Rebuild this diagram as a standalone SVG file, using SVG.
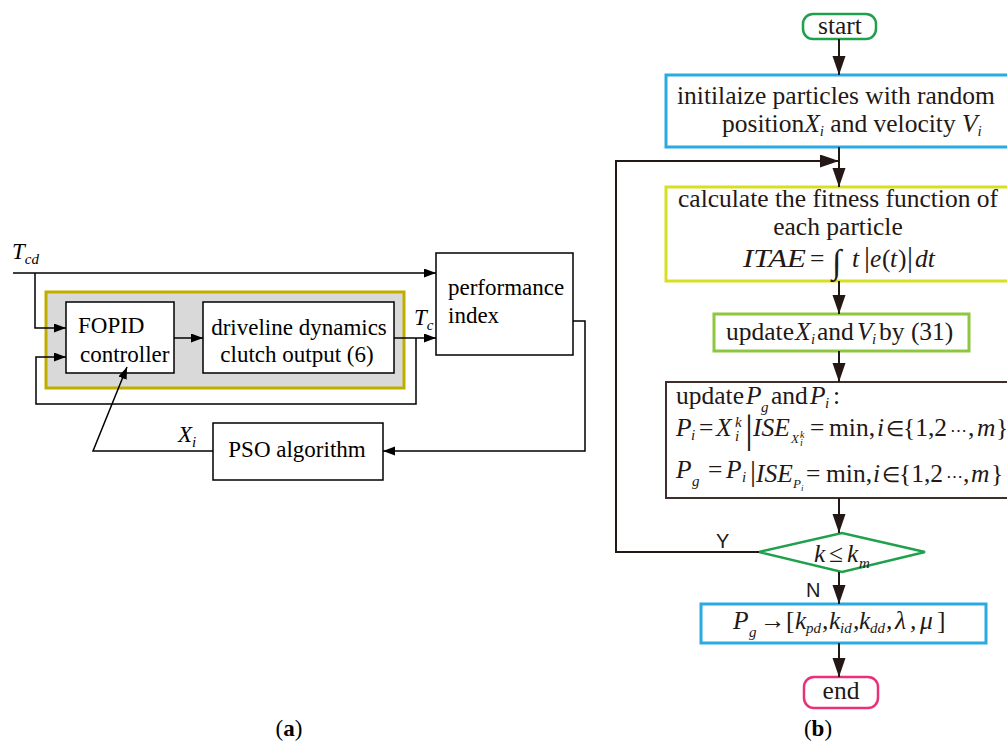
<svg xmlns="http://www.w3.org/2000/svg" width="1007" height="742" viewBox="0 0 1007 742">
<defs>
<marker id="arA" markerUnits="userSpaceOnUse" markerWidth="13" markerHeight="10" refX="12" refY="4.5" orient="auto"><path d="M0,0 L12,4.5 L0,9 z" fill="#000"/></marker>
<marker id="arB" markerUnits="userSpaceOnUse" markerWidth="20" markerHeight="14" refX="19" refY="6.5" orient="auto"><path d="M0,0 L19,6.5 L0,13 z" fill="#231815"/></marker>
<style>
.t{font-family:"Liberation Serif","Times New Roman",serif;font-size:23px;fill:#000}
.i{font-style:italic}
.s{font-size:15px}
.f{font-family:"Liberation Serif","Times New Roman",serif;font-size:25.5px;fill:#231815}
.bx{fill:#fff;stroke:#000;stroke-width:1.5}
.la{fill:none;stroke:#000;stroke-width:1.5}
.lb{fill:none;stroke:#231815;stroke-width:2}
.n{font-style:normal}
.el{font-size:21px}
.dots{font-size:17px}
</style>
</defs>
<rect width="1007" height="742" fill="#fff"/>

<!-- (a) block diagram -->
<g id="plant-group">
<rect x="46" y="292" width="358" height="96" fill="#d9d9d9" stroke="#bfae00" stroke-width="3"/>
</g>
<g id="fopid">
<rect class="bx" x="66" y="302" width="108" height="71"/>
<text class="t" x="78" y="333">FOPID</text>
<text class="t" x="80" y="362">controller</text>
</g>
<g id="driveline">
<rect class="bx" x="203" y="302" width="191" height="71"/>
<text class="t" x="299" y="335" text-anchor="middle">driveline dynamics</text>
<text class="t" x="297" y="362" text-anchor="middle">clutch output (6)</text>
</g>
<g id="performance">
<rect class="bx" x="436" y="253" width="137" height="102"/>
<text class="t" x="448" y="295">performance</text>
<text class="t" x="448" y="323">index</text>
</g>
<g id="pso">
<rect class="bx" x="213" y="423" width="170" height="57"/>
<text class="t" x="297" y="457" text-anchor="middle">PSO algorithm</text>
</g>
<g id="labels-a">
<text class="t i" x="12" y="259">T<tspan class="s" dy="5">cd</tspan></text>
<text class="t i" x="414" y="325">T<tspan class="s" dy="5">c</tspan></text>
<text class="t i" x="178" y="442">X<tspan class="s" dy="5">i</tspan></text>
</g>
<g id="connectors-a">
<path class="la" d="M13,273 H436" marker-end="url(#arA)"/>
<path class="la" d="M35,273 V328 H66" marker-end="url(#arA)"/>
<path class="la" d="M174,338 H203" marker-end="url(#arA)"/>
<path class="la" d="M394,338 H436" marker-end="url(#arA)"/>
<path class="la" d="M416,338 V404 H36 V357 H66" marker-end="url(#arA)"/>
<path class="la" d="M573,321 H585 V451 H383" marker-end="url(#arA)"/>
<path class="la" d="M213,451 H93 L127,367" marker-end="url(#arA)"/>
</g>

<!-- (b) flowchart -->
<g id="start">
<rect x="803" y="14" width="73" height="25" rx="10" fill="#fff" stroke="#1ea04c" stroke-width="2.5"/>
<text class="f" x="840" y="34" text-anchor="middle">start</text>
</g>
<g id="init">
<rect x="666" y="75" width="360" height="72" fill="#fff" stroke="#29abe2" stroke-width="3"/>
<text class="f" x="677" y="104">initilaize particles with random</text>
<text class="f" x="722" y="132">position<tspan class="i">X</tspan><tspan class="s i" dy="4">i</tspan><tspan dy="-4"> and velocity </tspan><tspan class="i">V</tspan><tspan class="s i" dy="4">i</tspan></text>
</g>
<g id="fitness">
<rect x="666" y="187" width="360" height="94" fill="#fff" stroke="#d7df23" stroke-width="3"/>
<text class="f" x="678" y="207">calculate the fitness function of</text>
<text class="f" x="838" y="235" text-anchor="middle">each particle</text>
<text class="f i" y="267" font-size="26"><tspan x="743" textLength="63" lengthAdjust="spacingAndGlyphs">ITAE</tspan><tspan class="n" x="810">=</tspan><tspan x="832" font-size="34" dy="6">∫</tspan><tspan x="852" dy="-6">t</tspan><tspan class="n" x="864" font-size="30">|</tspan><tspan x="870">e</tspan><tspan class="n" x="882">(</tspan><tspan x="890">t</tspan><tspan class="n" x="898">)</tspan><tspan class="n" x="907" font-size="30">|</tspan><tspan x="915">dt</tspan></text>
</g>
<g id="updateX">
<rect x="714" y="314" width="255" height="37" fill="#fff" stroke="#8dc63f" stroke-width="3"/>
<text class="f" y="340"><tspan x="726">update</tspan><tspan class="i" x="795">X</tspan><tspan class="s i" x="811" dy="4">i</tspan><tspan x="817" dy="-4">and</tspan><tspan class="i" x="857">V</tspan><tspan class="s i" x="872" dy="4">i</tspan><tspan x="879" dy="-4">by (31)</tspan></text>
</g>
<g id="updateP">
<rect x="666" y="382" width="360" height="116" fill="#fff" stroke="#3e2f2c" stroke-width="2"/>
<text class="f" y="404"><tspan x="676">update</tspan><tspan class="i" x="746">P</tspan><tspan class="s i" x="761" dy="8">g</tspan><tspan x="771" dy="-8">and</tspan><tspan class="i" x="810">P</tspan><tspan class="s i" x="825" dy="4">i</tspan><tspan x="833" dy="-4">:</tspan></text>
<text class="f" y="436"><tspan class="i" x="676">P</tspan><tspan class="s i" x="691" dy="4">i</tspan><tspan x="699" dy="-4">=</tspan><tspan class="i" x="716">X</tspan><tspan class="s i" x="735" dy="-9">k</tspan><tspan class="s i" x="735" dy="14">i</tspan><tspan x="745" dy="1" font-size="40">|</tspan><tspan class="i" x="753" dy="-6">ISE</tspan><tspan font-size="13" class="i" x="791" dy="7">X</tspan><tspan font-size="10" class="i" x="800" dy="-5">k</tspan><tspan font-size="10" class="i" x="800" dy="8">i</tspan><tspan x="810" dy="-10">=</tspan><tspan x="829">min,</tspan><tspan class="i" x="877">i</tspan><tspan class="el" x="886">∈</tspan><tspan x="903">{1,2</tspan><tspan class="dots" x="950">⋯</tspan><tspan x="968">,</tspan><tspan class="i" x="977">m</tspan><tspan x="996">}</tspan></text>
<text class="f" y="478"><tspan class="i" x="676">P</tspan><tspan class="s i" x="692" dy="8">g</tspan><tspan x="708" dy="-8">=</tspan><tspan class="i" x="726">P</tspan><tspan class="s i" x="742" dy="4">i</tspan><tspan x="750" dy="-1" font-size="30">|</tspan><tspan class="i" x="756" dy="1">ISE</tspan><tspan font-size="13" class="i" x="793" dy="6">P</tspan><tspan font-size="9" class="i" x="801" dy="3">i</tspan><tspan x="806" dy="-9">=</tspan><tspan x="826">min,</tspan><tspan class="i" x="873">i</tspan><tspan class="el" x="882">∈</tspan><tspan x="899">{1,2</tspan><tspan class="dots" x="946">⋯</tspan><tspan x="963">,</tspan><tspan class="i" x="971">m</tspan><tspan x="991">}</tspan></text>
</g>
<g id="decision">
<polygon points="759,552 842,533 925,552 842,572" fill="#fff" stroke="#1ea04c" stroke-width="2.5"/>
<text class="f i" y="562"><tspan x="814">k</tspan><tspan class="n" x="829">≤</tspan><tspan x="847">k</tspan><tspan class="s" x="859" dy="6">m</tspan></text>
<text x="716" y="548" font-family="Liberation Sans, Arial, sans-serif" font-size="20" fill="#231815">Y</text>
<text x="806" y="597" font-family="Liberation Sans, Arial, sans-serif" font-size="20" fill="#231815">N</text>
</g>
<g id="output">
<rect x="701" y="604" width="285" height="39" fill="#fff" stroke="#29abe2" stroke-width="3"/>
<text class="f" y="629"><tspan class="i" x="733">P</tspan><tspan class="s i" x="749" dy="8">g</tspan><tspan x="760" dy="-8">→</tspan><tspan x="786">[</tspan><tspan class="i" x="795">k</tspan><tspan class="s i" x="806" dy="4">pd</tspan><tspan class="i" x="822" dy="-4">,</tspan><tspan class="i" x="829">k</tspan><tspan class="s i" x="840" dy="4">id</tspan><tspan class="i" x="853" dy="-4">,</tspan><tspan class="i" x="859">k</tspan><tspan class="s i" x="870" dy="4">dd</tspan><tspan class="i" x="886" dy="-4">,</tspan><tspan class="i" x="895">λ</tspan><tspan class="i" x="910">,</tspan><tspan class="i" x="920">μ</tspan><tspan x="937">]</tspan></text>
</g>
<g id="end">
<rect x="804" y="677" width="74" height="31" rx="10" fill="#fff" stroke="#e8317a" stroke-width="2.5"/>
<text class="f" x="841" y="699" text-anchor="middle">end</text>
</g>
<g id="connectors-b">
<path class="lb" d="M839,39 V75" marker-end="url(#arB)"/>
<path class="lb" d="M839,147 V187" marker-end="url(#arB)"/>
<path class="lb" d="M759,552 H616 V161 H839" marker-end="url(#arB)"/>
<path class="lb" d="M839,281 V314" marker-end="url(#arB)"/>
<path class="lb" d="M839,351 V382" marker-end="url(#arB)"/>
<path class="lb" d="M839,498 V533" marker-end="url(#arB)"/>
<path class="lb" d="M839,572 V604" marker-end="url(#arB)"/>
<path class="lb" d="M839,643 V677" marker-end="url(#arB)"/>
</g>

<g id="captions">
<text class="t" x="289" y="736" text-anchor="middle" font-size="25">(<tspan font-weight="bold">a</tspan>)</text>
<text class="t" x="818" y="736" text-anchor="middle" font-size="25">(<tspan font-weight="bold">b</tspan>)</text>
</g>
</svg>
